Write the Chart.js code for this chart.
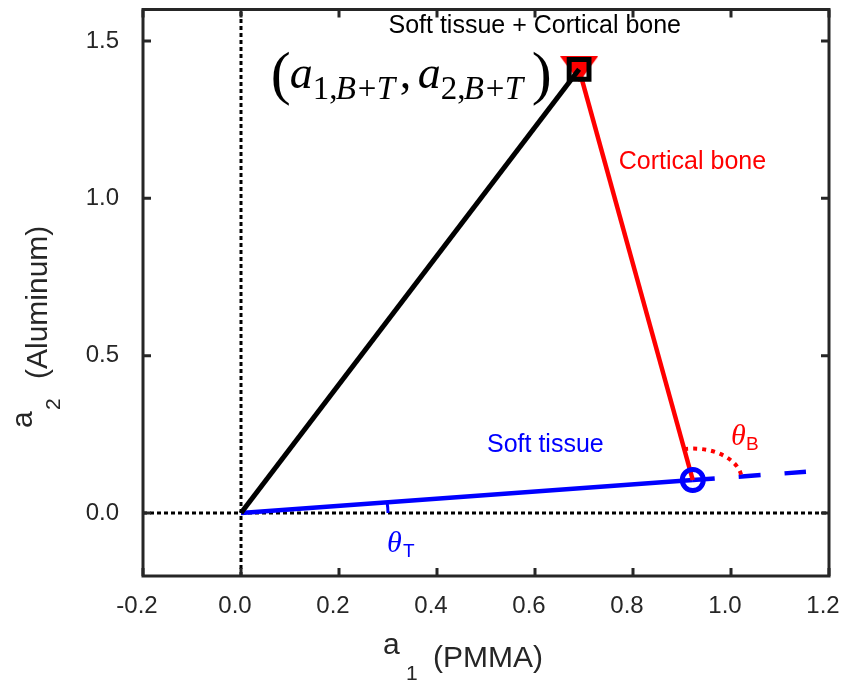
<!DOCTYPE html>
<html>
<head>
<meta charset="utf-8">
<script src="https://cdn.jsdelivr.net/npm/chart.js@4.4.0/dist/chart.umd.min.js"></script>
<style>
  html, body { margin: 0; padding: 0; background: #fff; }
  #wrap { width: 841px; height: 681px; }
</style>
</head>
<body>
<div id="wrap"><canvas id="chart" width="841" height="681"></canvas></div>
<script>
// points in the (a1, a2) plane
const origin = [0, 0];
const boneTissue = [0.69, 1.41];      // soft tissue + cortical bone
const softTissue = [0.922, 0.105];
const softTissueExt = [1.153, 0.131]; // dashed continuation
const xTicks = [-0.2, 0.0, 0.2, 0.4, 0.6, 0.8, 1.0, 1.2];
const yTicks = [0.0, 0.5, 1.0, 1.5];
const xRange = [-0.2, 1.2];
const yRange = [-0.2, 1.6];

const SANS = '"Liberation Sans", Arial, sans-serif';
const SERIF = '"Liberation Serif", "Times New Roman", serif';
const RED = '#ff0000', BLUE = '#0000ff';

function pt(p) { return { x: p[0], y: p[1] }; }

function line(pts, color, width, dash, order) {
    return {
        data: pts.map(pt), showLine: true, borderColor: color, borderWidth: width,
        borderDash: dash || [], pointRadius: 0, order: order, borderCapStyle: 'butt'
    };
}

// flat downward triangle used as a point style
function triangleMarker(w, h, color) {
    const c = document.createElement('canvas');
    c.width = w; c.height = h;
    const g = c.getContext('2d');
    g.fillStyle = color;
    g.beginPath();
    g.moveTo(0, 0); g.lineTo(w, 0); g.lineTo(w / 2, h);
    g.closePath();
    g.fill();
    return c;
}

// arc drawn in data units (radius r), between the directions to p1 and p2
function dataArc(chart, center, p1, p2, r, color, width, dash) {
    const ctx = chart.ctx, xs = chart.scales.x, ys = chart.scales.y;
    const cx = xs.getPixelForValue(center[0]), cy = ys.getPixelForValue(center[1]);
    const rx = Math.abs(xs.getPixelForValue(center[0] + r) - cx);
    const ry = Math.abs(ys.getPixelForValue(center[1] + r) - cy);
    const a1 = Math.atan2(p1[1] - center[1], p1[0] - center[0]);
    const a2 = Math.atan2(p2[1] - center[1], p2[0] - center[0]);
    ctx.save();
    ctx.strokeStyle = color;
    ctx.lineWidth = width;
    ctx.setLineDash(dash || []);
    ctx.beginPath();
    ctx.ellipse(cx, cy, rx, ry, 0, -a2, -a1);
    ctx.stroke();
    ctx.restore();
}

// text pieces: [text, font, dx, dy] relative to an anchor
function drawPieces(ctx, x, y, pieces, color) {
    ctx.fillStyle = color;
    ctx.textAlign = 'left';
    ctx.textBaseline = 'alphabetic';
    pieces.forEach(p => {
        ctx.font = p[1];
        ctx.fillText(p[0], x + p[2], y + p[3]);
    });
}

const annotations = {
    id: 'annotations',
    afterDatasetsDraw(chart) {
        const ctx = chart.ctx, xs = chart.scales.x, ys = chart.scales.y;
        const X = v => xs.getPixelForValue(v), Y = v => ys.getPixelForValue(v);

        dataArc(chart, softTissue, softTissueExt, boneTissue, 0.1, RED, 4, [4, 5]);
        dataArc(chart, origin, [1, 0], softTissue, 0.3, BLUE, 3);

        ctx.save();
        drawPieces(ctx, X(0.301), Y(1.525), [['Soft tissue + Cortical bone', '25px ' + SANS, 0, 0]], '#000');
        drawPieces(ctx, X(0.771), Y(1.093), [['Cortical bone', '25px ' + SANS, 0, 0]], RED);
        drawPieces(ctx, X(0.502), Y(0.194), [['Soft tissue', '25px ' + SANS, 0, 0]], BLUE);

        drawPieces(ctx, X(1.0), Y(0.216), [
            ['\u03b8', 'italic 30px ' + SERIF, 0, 0],
            ['B', '19px ' + SANS, 15, 5]
        ], RED);
        drawPieces(ctx, X(0.298), Y(-0.124), [
            ['\u03b8', 'italic 30px ' + SERIF, 0, 0],
            ['T', '19px ' + SANS, 16, 5]
        ], BLUE);

        // (a_{1,B+T}, a_{2,B+T})
        const fx = X(0.065), fy = Y(1.338);
        const big = '46px ' + SERIF, bigI = 'italic 46px ' + SERIF;
        const sub = '33px ' + SERIF, subI = 'italic 33px ' + SERIF;
        drawPieces(ctx, fx, fy, [
            ['(', '60px ' + SERIF, -2, 1],
            ['a', bigI, 17, -4],
            ['1,', sub, 40, 7],
            ['B', subI, 63, 7],
            ['+', sub, 85, 7],
            ['T', subI, 104, 7],
            [',', big, 127, -4],
            ['a', bigI, 145, -4],
            ['2,', sub, 168, 7],
            ['B', subI, 191, 7],
            ['+', sub, 213, 7],
            ['T', subI, 232, 7],
            [')', '60px ' + SERIF, 259, 1]
        ], '#000');
        ctx.restore();
    }
};

const frame = {
    id: 'frame',
    afterDatasetsDraw(chart) {
        const ctx = chart.ctx, a = chart.chartArea, xs = chart.scales.x, ys = chart.scales.y;
        const tick = 8;
        ctx.save();
        ctx.strokeStyle = '#262626';
        ctx.lineWidth = 3;
        ctx.setLineDash([]);
        ctx.strokeRect(a.left, a.top, a.right - a.left, a.bottom - a.top);
        ctx.beginPath();
        xTicks.forEach(v => {
            const px = xs.getPixelForValue(v);
            ctx.moveTo(px, a.bottom); ctx.lineTo(px, a.bottom - tick);
            ctx.moveTo(px, a.top); ctx.lineTo(px, a.top + tick);
        });
        yTicks.forEach(v => {
            const py = ys.getPixelForValue(v);
            ctx.moveTo(a.left, py); ctx.lineTo(a.left + tick, py);
            ctx.moveTo(a.right, py); ctx.lineTo(a.right - tick, py);
        });
        ctx.stroke();

        // axis titles
        ctx.fillStyle = '#262626';
        ctx.textAlign = 'left';
        ctx.textBaseline = 'alphabetic';
        ctx.font = '30px ' + SANS;
        ctx.fillText('a', 383, 654);
        ctx.fillText('(PMMA)', 433, 667);
        ctx.font = '21px ' + SANS;
        ctx.fillText('1', 406, 680);

        ctx.save();
        ctx.translate(32, 428);
        ctx.rotate(-Math.PI / 2);
        ctx.font = '30px ' + SANS;
        ctx.fillText('a', 0, 0);
        ctx.restore();
        ctx.save();
        ctx.translate(60, 410);
        ctx.rotate(-Math.PI / 2);
        ctx.font = '21px ' + SANS;
        ctx.fillText('2', 0, 0);
        ctx.restore();
        ctx.save();
        ctx.translate(47, 379);
        ctx.rotate(-Math.PI / 2);
        ctx.font = '30px ' + SANS;
        ctx.fillText('(Aluminum)', 0, 0);
        ctx.restore();

        ctx.restore();
    }
};

const tickFont = { family: SANS, size: 24 };

new Chart(document.getElementById('chart'), {
    type: 'scatter',
    data: {
        datasets: [
            // square marker on the combined point
            { data: [pt(boneTissue)], pointStyle: 'rect', pointRadius: 14, borderWidth: 5,
              pointBorderColor: '#000', pointBackgroundColor: 'rgba(0,0,0,0)', order: 0 },
            // circle on soft tissue
            { data: [pt(softTissue)], pointStyle: 'circle', pointRadius: 10.5, borderWidth: 5,
              pointBorderColor: BLUE, pointBackgroundColor: 'rgba(0,0,0,0)', order: 1 },
            line([origin, boneTissue], '#000', 5, null, 2),
            line([softTissue, boneTissue], RED, 4.5, null, 3),
            line([origin, softTissue], BLUE, 4.5, null, 3),
            line([softTissue, softTissueExt], BLUE, 4.5, [22, 24], 3),
            // triangle under the square
            { data: [pt(boneTissue)], pointStyle: triangleMarker(38, 26, RED), pointRadius: 19,
              borderWidth: 0, order: 4 },
            // dotted zero lines
            line([[0, yRange[0]], [0, yRange[1]]], '#000', 3, [4, 3], 10),
            line([[xRange[0], 0], [xRange[1], 0]], '#000', 3, [4, 3], 10)
        ]
    },
    options: {
        responsive: false,
        animation: false,
        devicePixelRatio: 1,
        layout: { padding: { top: 9.5, right: 12, left: 0, bottom: 0 }, autoPadding: false },
        plugins: { legend: { display: false }, tooltip: { enabled: false } },
        scales: {
            x: {
                type: 'linear', min: xRange[0], max: xRange[1],
                grid: { display: false }, border: { display: false },
                afterBuildTicks: s => { s.ticks = xTicks.map(v => ({ value: v })); },
                afterFit: s => { s.height = 105; s.paddingLeft = 0; s.paddingRight = 0; },
                ticks: { font: tickFont, color: '#262626', padding: 8, labelOffset: -6,
                         maxRotation: 0, autoSkip: false, callback: v => v.toFixed(1) }
            },
            y: {
                type: 'linear', min: yRange[0], max: yRange[1],
                grid: { display: false }, border: { display: false },
                afterBuildTicks: s => { s.ticks = yTicks.map(v => ({ value: v })); },
                afterFit: s => { s.width = 143; s.paddingTop = 0; s.paddingBottom = 0; },
                ticks: { font: tickFont, color: '#262626', padding: 16,
                         autoSkip: false, callback: v => v.toFixed(1) }
            }
        }
    },
    plugins: [frame, annotations]
});
</script>
</body>
</html>
